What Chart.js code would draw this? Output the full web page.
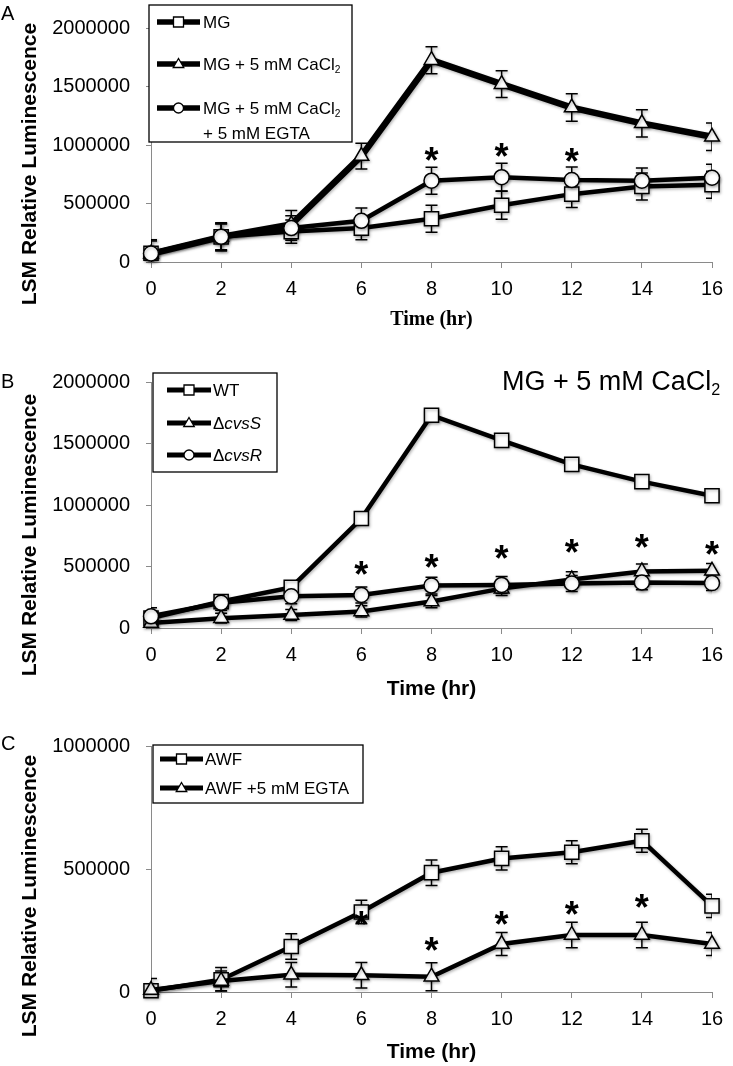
<!DOCTYPE html>
<html>
<head>
<meta charset="utf-8">
<script src="https://cdn.jsdelivr.net/npm/chart.js@4.4.1/dist/chart.umd.min.js"></script>
<style>
  body { margin: 0; background: #fff; }
  #wrap { position: relative; width: 733px; height: 1066px; }
  canvas { position: absolute; left: 0; }
</style>
</head>
<body>
<div id="wrap">
  <canvas id="chartA" width="733" height="340" style="top:0px"></canvas>
  <canvas id="chartB" width="733" height="370" style="top:340px"></canvas>
  <canvas id="chartC" width="733" height="356" style="top:710px"></canvas>
</div>
<script>
const SANS = "'Liberation Sans', Arial, Helvetica, sans-serif";
const SERIF = "'Liberation Serif', 'Times New Roman', serif";
const AXIS = '#8a8a8a';

const hours = [0, 2, 4, 6, 8, 10, 12, 14, 16];

// panel A
const aLabels = ['MG', 'MG + 5 mM CaCl₂', 'MG + 5 mM CaCl₂\n+ 5 mM EGTA'];
const aMG = [75000, 215000, 260000, 290000, 370000, 485000, 580000, 645000, 660000];
const aMGErr = [115000, 110000, 100000, 100000, 115000, 120000, 115000, 115000, 115000];
const aCa = [70000, 215000, 320000, 905000, 1725000, 1520000, 1320000, 1185000, 1070000];
const aCaErr = [110000, 115000, 120000, 110000, 115000, 115000, 117000, 117000, 118000];
const aEgta = [72000, 215000, 290000, 352000, 695000, 725000, 700000, 695000, 720000];
const aEgtaErr = [119000, 120000, 105000, 110000, 115000, 118000, 112000, 108000, 115000];
const aStarX = [8, 10, 12];
const aStarY = [930000, 965000, 920000];

// panel B
const bLabels = ['WT', 'Δ_cvsS_', 'Δ_cvsR_'];
const bWT = [80000, 215000, 330000, 890000, 1730000, 1525000, 1330000, 1190000, 1075000];
const bWTErr = [30000, 30000, 30000, 30000, 30000, 30000, 30000, 30000, 30000];
const bS = [40000, 80000, 105000, 135000, 215000, 320000, 395000, 460000, 465000];
const bSErr = [30000, 40000, 45000, 45000, 50000, 55000, 62000, 60000, 60000];
const bR = [95000, 205000, 258000, 268000, 345000, 350000, 362000, 370000, 365000];
const bRErr = [70000, 60000, 60000, 65000, 68000, 68000, 65000, 60000, 60000];
const bStarX = [6, 8, 10, 12, 14, 16];
const bStarY = [498000, 553000, 628000, 675000, 715000, 661000];

// panel C
const cLabels = ['AWF', 'AWF +5 mM EGTA'];
const cAWF = [5000, 50000, 185000, 325000, 485000, 543000, 568000, 615000, 350000];
const cAWFErr = [50000, 50000, 52000, 48000, 52000, 47000, 47000, 47000, 47000];
const cEgta = [8000, 45000, 70000, 68000, 62000, 195000, 232000, 232000, 195000];
const cEgtaErr = [10000, 40000, 50000, 52000, 57000, 47000, 52000, 52000, 47000];
const cStarX = [6, 8, 10, 12, 14];
const cStarY = [305000, 199000, 305000, 346000, 374000];

function series(label, vals, errs, style, radius, width, order) {
  return {
    label: label,
    data: hours.map((h, i) => ({x: h, y: vals[i]})),
    errors: errs,
    borderColor: '#000',
    borderWidth: width,
    tension: 0,
    pointStyle: style,
    pointRadius: radius,
    pointHoverRadius: radius,
    pointBackgroundColor: '#fff',
    pointBorderColor: '#000',
    pointBorderWidth: 1.5,
    order: order,
    clip: false
  };
}

// text with subscript "₂" and _italic_ parts, y is the baseline
function richText(ctx, text, x, y, size, weight) {
  const parts = text.split(/(₂|_[^_]+_)/).filter(s => s);
  parts.forEach(p => {
    let t = p, s = size, dy = 0, style = '';
    if (p === '₂') { t = '2'; s = size * 0.6; dy = size * 0.2; }
    else if (p[0] === '_') { t = p.slice(1, -1); style = 'italic '; }
    ctx.font = style + weight + ' ' + s + 'px ' + SANS;
    ctx.fillText(t, x, y + dy);
    x += ctx.measureText(t).width;
  });
}

function marker(ctx, style, cx, cy, r) {
  ctx.beginPath();
  if (style === 'rect') {
    ctx.rect(cx - r, cy - r, 2 * r, 2 * r);
  } else if (style === 'triangle') {
    ctx.moveTo(cx, cy - r * 1.1);
    ctx.lineTo(cx + r * 1.05, cy + r * 0.7);
    ctx.lineTo(cx - r * 1.05, cy + r * 0.7);
    ctx.closePath();
  } else {
    ctx.arc(cx, cy, r, 0, Math.PI * 2);
  }
  ctx.fill();
  ctx.stroke();
}

function decor(p) {
  return {
    id: 'decor',
    beforeDatasetsDraw(chart) {
      const {ctx, chartArea: a, scales: {x, y}} = chart;
      ctx.save();
      ctx.shadowColor = 'rgba(0,0,0,0.3)';
      ctx.shadowBlur = 3;
      ctx.shadowOffsetX = 1;
      ctx.shadowOffsetY = 1.5;
      ctx.save();
      ctx.beginPath();
      ctx.rect(a.left, a.top, a.right - a.left, a.bottom - a.top);
      ctx.clip();
      ctx.strokeStyle = '#000';
      ctx.lineWidth = 1.5;
      chart.data.datasets.forEach(ds => {
        ds.data.forEach((pt, i) => {
          const e = ds.errors[i];
          const px = x.getPixelForValue(pt.x);
          const t = y.getPixelForValue(pt.y + e);
          const b = y.getPixelForValue(pt.y - e);
          ctx.beginPath();
          ctx.moveTo(px, t); ctx.lineTo(px, b);
          ctx.moveTo(px - 6, t); ctx.lineTo(px + 6, t);
          ctx.moveTo(px - 6, b); ctx.lineTo(px + 6, b);
          ctx.stroke();
        });
      });
      ctx.restore();
    },
    afterDatasetsDraw(chart) {
      const {ctx, scales: {x, y}} = chart;
      ctx.restore();
      // asterisks
      ctx.save();
      ctx.fillStyle = '#000';
      ctx.font = 'bold 36px ' + SANS;
      ctx.textAlign = 'center';
      p.starX.forEach((sx, i) => {
        ctx.fillText('*', x.getPixelForValue(sx), y.getPixelForValue(p.starY[i]) + 20);
      });
      ctx.restore();
    },
    afterDraw(chart) {
      const {ctx, chartArea: a} = chart;
      const L = p.legend;
      ctx.save();
      // legend box
      ctx.fillStyle = '#fff';
      ctx.fillRect(L.box[0], L.box[1], L.box[2] - L.box[0], L.box[3] - L.box[1]);
      ctx.strokeStyle = '#000';
      ctx.lineWidth = 1.3;
      ctx.strokeRect(L.box[0], L.box[1], L.box[2] - L.box[0], L.box[3] - L.box[1]);
      chart.data.datasets.forEach((ds, i) => {
        const cy = L.rows[i];
        ctx.strokeStyle = '#000';
        ctx.lineWidth = L.lineWidth;
        ctx.beginPath();
        ctx.moveTo(L.lineX[0], cy);
        ctx.lineTo(L.lineX[1], cy);
        ctx.stroke();
        ctx.fillStyle = '#fff';
        ctx.lineWidth = 1.3;
        marker(ctx, ds.pointStyle, (L.lineX[0] + L.lineX[1]) / 2, cy, 5);
        ctx.fillStyle = '#000';
        ds.label.split('\n').forEach((line, k) => {
          richText(ctx, line, L.textX, cy + 6 + k * 25, 17, 'normal');
        });
      });

      // y axis title
      ctx.save();
      ctx.translate(30, p.yTitleY);
      ctx.rotate(-Math.PI / 2);
      ctx.textAlign = 'center';
      ctx.textBaseline = 'middle';
      ctx.fillStyle = '#000';
      ctx.font = 'bold 21px ' + SANS;
      ctx.fillText('LSM Relative Luminescence', 0, 0);
      ctx.restore();

      // panel letter
      ctx.fillStyle = '#000';
      ctx.font = '20px ' + SANS;
      ctx.fillText(p.letter, 1, p.letterY);

      if (p.title) {
        richText(ctx, p.title, p.titleX, p.titleY, 27, 'normal');
      }
      ctx.restore();
    }
  };
}

function panel(id, p) {
  return new Chart(document.getElementById(id), {
    type: 'line',
    data: {datasets: p.datasets},
    options: {
      responsive: false,
      animation: false,
      events: [],
      layout: {padding: {left: 0, right: 21, top: p.padTop, bottom: p.padBottom}},
      plugins: {legend: {display: false}, tooltip: {enabled: false}},
      scales: {
        x: {
          type: 'linear', min: 0, max: 16,
          ticks: {stepSize: 2, padding: 9, color: '#000', font: {family: SANS, size: 20}},
          grid: {drawOnChartArea: false, tickLength: 6, color: AXIS},
          border: {color: AXIS, width: 1},
          title: {display: true, text: 'Time (hr)', color: '#000', font: p.xTitleFont, padding: 0},
          afterFit: s => { s.height = p.xHeight; }
        },
        y: {
          type: 'linear', min: 0, max: p.yMax,
          ticks: {stepSize: p.yStep, padding: 16, color: '#000', font: {family: SANS, size: 20},
                  callback: v => String(v)},
          grid: {drawOnChartArea: false, tickLength: 5, color: AXIS},
          border: {color: AXIS, width: 1},
          afterFit: s => { s.width = 151; }
        }
      }
    },
    plugins: [decor(p)]
  });
}

panel('chartA', {
  datasets: [
    series(aLabels[0], aMG, aMGErr, 'rect', 10, 4.5, 3),
    series(aLabels[1], aCa, aCaErr, 'triangle', 8.5, 6.5, 2),
    series(aLabels[2], aEgta, aEgtaErr, 'circle', 7.5, 4.5, 1)
  ],
  padTop: 14, padBottom: 8, xHeight: 70,
  xTitleFont: {family: SERIF, size: 20, weight: 'bold'},
  yMax: 2000000, yStep: 500000,
  starX: aStarX, starY: aStarY,
  legend: {box: [149, 5, 352, 142], rows: [22, 64, 108], lineX: [157, 200], textX: 203, lineWidth: 5.5},
  yTitleY: 164, letter: 'A', letterY: 20
});

panel('chartB', {
  datasets: [
    series(bLabels[0], bWT, bWTErr, 'rect', 10, 4.5, 3),
    series(bLabels[1], bS, bSErr, 'triangle', 8.5, 4.5, 2),
    series(bLabels[2], bR, bRErr, 'circle', 7.5, 4.5, 1)
  ],
  padTop: 42, padBottom: 8, xHeight: 74,
  xTitleFont: {family: SANS, size: 21, weight: 'bold'},
  yMax: 2000000, yStep: 500000,
  starX: bStarX, starY: bStarY,
  legend: {box: [153, 33, 277, 132], rows: [50, 83, 115], lineX: [167, 211], textX: 213, lineWidth: 5},
  yTitleY: 195, letter: 'B', letterY: 48,
  title: 'MG + 5 mM CaCl₂', titleX: 502, titleY: 50
});

panel('chartC', {
  datasets: [
    series(cLabels[0], cAWF, cAWFErr, 'rect', 10, 4.5, 2),
    series(cLabels[1], cEgta, cEgtaErr, 'triangle', 8.5, 4.5, 1)
  ],
  padTop: 36, padBottom: 1, xHeight: 73,
  xTitleFont: {family: SANS, size: 21, weight: 'bold'},
  yMax: 1000000, yStep: 500000,
  starX: cStarX, starY: cStarY,
  legend: {box: [153, 35, 363, 93], rows: [49, 78], lineX: [160, 203], textX: 205, lineWidth: 5},
  yTitleY: 186, letter: 'C', letterY: 40
});
</script>
</body>
</html>
